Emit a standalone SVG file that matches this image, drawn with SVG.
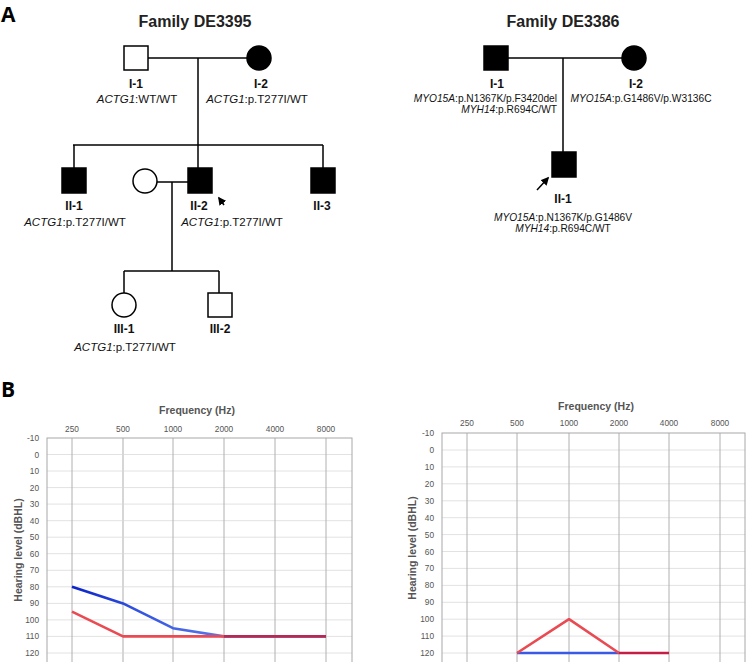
<svg xmlns="http://www.w3.org/2000/svg" width="746" height="662" viewBox="0 0 746 662">
<style>
.bg{fill:#fff}
.panel{font-family:"Open Sans","Liberation Sans",sans-serif;font-weight:700;font-size:21px;fill:#000}
.title{font-family:"Liberation Sans",Arial,sans-serif;font-weight:700;font-size:16px;fill:#222;text-anchor:middle}
.id{font-family:"Liberation Sans",Arial,sans-serif;font-weight:700;font-size:12px;fill:#111;text-anchor:middle}
.geno{font-family:"Liberation Sans",Arial,sans-serif;font-size:11.5px;fill:#111;text-anchor:middle}
.geno2{font-family:"Liberation Sans",Arial,sans-serif;font-size:10.2px;fill:#111}
.it{font-style:italic}
.open{fill:#fff;stroke:#000;stroke-width:1.5}
.aff{fill:#000;stroke:#000;stroke-width:1.5}
.ln{stroke:#000;stroke-width:1.5;fill:none}
.arr{stroke:#000;stroke-width:1.5;fill:none}
.hgrid{stroke:#e2e2e2;stroke-width:1}
.vgrid{stroke:#b0b0b0;stroke-width:1}
.frame{fill:none;stroke:#a8a8a8;stroke-width:1}
.axt{font-family:"Liberation Sans",Arial,sans-serif;font-weight:700;font-size:10.5px;fill:#555;text-anchor:middle}
.fq{font-family:"Liberation Sans",Arial,sans-serif;font-size:8.3px;fill:#555;text-anchor:middle}
.yl{font-family:"Liberation Sans",Arial,sans-serif;font-size:8.3px;fill:#555;text-anchor:end}
.curve{fill:none;stroke-width:2.6;stroke-linejoin:round;stroke-linecap:butt}
</style>
<defs>
<marker id="ah" viewBox="0 0 10 10" refX="8" refY="5" markerWidth="5.5" markerHeight="5.5" orient="auto">
<path d="M0,0 L10,5 L0,10 z" fill="#000"/>
</marker>
<linearGradient id="blueL" gradientUnits="userSpaceOnUse" x1="72" y1="0" x2="224" y2="0">
<stop offset="0" stop-color="#0a22c8"/>
<stop offset="0.45" stop-color="#3555e0"/>
<stop offset="1" stop-color="#5a78ea"/>
</linearGradient>
</defs>
<rect class="bg" x="0" y="0" width="746" height="662"/>

<text class="panel" x="1" y="22">A</text>
<text class="panel" x="1" y="397">B</text>

<text class="title" x="195" y="27">Family DE3395</text>
<text class="title" x="563" y="27">Family DE3386</text>

<g id="connectors">
<line class="ln" x1="148" y1="58" x2="247" y2="58"/>
<line class="ln" x1="198" y1="58" x2="198" y2="145"/>
<line class="ln" x1="73" y1="145" x2="323" y2="145"/>
<line class="ln" x1="74" y1="145" x2="74" y2="168"/>
<line class="ln" x1="198" y1="145" x2="198" y2="168"/>
<line class="ln" x1="323" y1="145" x2="323" y2="168"/>
<line class="ln" x1="157" y1="182" x2="188" y2="182"/>
<line class="ln" x1="172" y1="182" x2="172" y2="271"/>
<line class="ln" x1="124" y1="271" x2="219" y2="271"/>
<line class="ln" x1="124" y1="271" x2="124" y2="293"/>
<line class="ln" x1="219" y1="271" x2="219" y2="293"/>
<line class="ln" x1="508" y1="58" x2="622" y2="58"/>
<line class="ln" x1="563" y1="58" x2="563" y2="152"/>
</g>

<g id="I-1_DE3395">
<rect class="open" x="124" y="46" width="24" height="24"/>
<text class="id" x="136" y="88">I-1</text>
<text class="geno" x="137" y="103"><tspan class="it">ACTG1</tspan>:WT/WT</text>
</g>
<g id="I-2_DE3395">
<circle class="aff" cx="259" cy="58" r="12"/>
<text class="id" x="261" y="88">I-2</text>
<text class="geno" x="257" y="103"><tspan class="it">ACTG1</tspan>:p.T277I/WT</text>
</g>
<g id="II-1_DE3395">
<rect class="aff" x="62" y="168" width="24" height="25"/>
<text class="id" x="74" y="210">II-1</text>
<text class="geno" x="75" y="226"><tspan class="it">ACTG1</tspan>:p.T277I/WT</text>
</g>
<g id="spouse_DE3395">
<circle class="open" cx="145" cy="181" r="12"/>
</g>
<g id="II-2_DE3395">
<rect class="aff" x="188" y="168" width="24" height="25"/>
<text class="id" x="199" y="210">II-2</text>
<text class="geno" x="232" y="226"><tspan class="it">ACTG1</tspan>:p.T277I/WT</text>
<line class="arr" x1="224" y1="205" x2="219" y2="198" marker-end="url(#ah)"/>
</g>
<g id="II-3_DE3395">
<rect class="aff" x="311" y="168" width="24" height="25"/>
<text class="id" x="322" y="210">II-3</text>
</g>
<g id="III-1_DE3395">
<circle class="open" cx="124" cy="305" r="12"/>
<text class="id" x="124" y="333">III-1</text>
<text class="geno" x="125" y="351"><tspan class="it">ACTG1</tspan>:p.T277I/WT</text>
</g>
<g id="III-2_DE3395">
<rect class="open" x="208" y="293" width="24" height="24"/>
<text class="id" x="220" y="333">III-2</text>
</g>

<g id="I-1_DE3386">
<rect class="aff" x="484" y="46" width="24" height="24"/>
<text class="id" x="497" y="88">I-1</text>
<text class="geno2" x="557" y="102" text-anchor="end"><tspan class="it">MYO15A</tspan>:p.N1367K/p.F3420del</text>
<text class="geno2" x="557" y="113" text-anchor="end"><tspan class="it">MYH14</tspan>:p.R694C/WT</text>
</g>
<g id="I-2_DE3386">
<circle class="aff" cx="634" cy="58" r="12"/>
<text class="id" x="636" y="88">I-2</text>
<text class="geno2" x="641" y="102" text-anchor="middle"><tspan class="it">MYO15A</tspan>:p.G1486V/p.W3136C</text>
</g>
<g id="II-1_DE3386">
<rect class="aff" x="552" y="152" width="24" height="25"/>
<text class="id" x="563" y="203">II-1</text>
<text class="geno2" x="563" y="221" text-anchor="middle"><tspan class="it">MYO15A</tspan>:p.N1367K/p.G1486V</text>
<text class="geno2" x="563" y="232" text-anchor="middle"><tspan class="it">MYH14</tspan>:p.R694C/WT</text>
<line class="arr" x1="537" y1="190" x2="548" y2="178" marker-end="url(#ah)"/>
</g>

<g id="chart-left">
<text class="axt" x="197" y="414">Frequency (Hz)</text>
<g class="fq">
<text x="72" y="432">250</text><text x="123" y="432">500</text><text x="173" y="432">1000</text>
<text x="224" y="432">2000</text><text x="275" y="432">4000</text><text x="326" y="432">8000</text>
</g>
<g class="hgrid">
<line x1="47" y1="454.5" x2="352" y2="454.5"/><line x1="47" y1="471" x2="352" y2="471"/>
<line x1="47" y1="487.6" x2="352" y2="487.6"/><line x1="47" y1="504.1" x2="352" y2="504.1"/>
<line x1="47" y1="520.7" x2="352" y2="520.7"/><line x1="47" y1="537.2" x2="352" y2="537.2"/>
<line x1="47" y1="553.7" x2="352" y2="553.7"/><line x1="47" y1="570.3" x2="352" y2="570.3"/>
<line x1="47" y1="586.8" x2="352" y2="586.8"/><line x1="47" y1="603.4" x2="352" y2="603.4"/>
<line x1="47" y1="619.9" x2="352" y2="619.9"/><line x1="47" y1="636.4" x2="352" y2="636.4"/>
<line x1="47" y1="653" x2="352" y2="653"/>
</g>
<g class="vgrid">
<line x1="72" y1="438" x2="72" y2="662"/>
<line x1="123" y1="438" x2="123" y2="662" stroke="#d6d6d6" stroke-width="2"/>
<line x1="173" y1="438" x2="173" y2="662"/><line x1="224" y1="438" x2="224" y2="662"/>
<line x1="275" y1="438" x2="275" y2="662"/><line x1="326" y1="438" x2="326" y2="662"/>
</g>
<rect class="frame" x="47" y="438" width="305" height="230"/>
<g class="yl">
<text x="39" y="441">-10</text><text x="39" y="457.5">0</text><text x="39" y="474">10</text>
<text x="39" y="490.6">20</text><text x="39" y="507.1">30</text><text x="39" y="523.7">40</text>
<text x="39" y="540.2">50</text><text x="39" y="556.7">60</text><text x="39" y="573.3">70</text>
<text x="39" y="589.8">80</text><text x="39" y="606.4">90</text><text x="39" y="622.9">100</text>
<text x="39" y="639.4">110</text><text x="39" y="656">120</text>
</g>
<text class="axt" transform="translate(22,550) rotate(-90)">Hearing level (dBHL)</text>
<path class="curve" stroke="url(#blueL)" d="M72,586.8 L123,603.4 L173,628.2 L224,636.4 L326,636.4"/>
<path class="curve" stroke="#ea4a52" d="M72,611.6 L123,636.4 L224,636.4"/>
<path class="curve" stroke="#b8284f" d="M224,636.4 L326,636.4"/>
</g>

<g id="chart-right">
<text class="axt" x="596" y="410">Frequency (Hz)</text>
<g class="fq">
<text x="467" y="426">250</text><text x="517" y="426">500</text><text x="569" y="426">1000</text>
<text x="619" y="426">2000</text><text x="669" y="426">4000</text><text x="720" y="426">8000</text>
</g>
<g class="hgrid">
<line x1="442" y1="450" x2="745" y2="450"/><line x1="442" y1="466.9" x2="745" y2="466.9"/>
<line x1="442" y1="483.8" x2="745" y2="483.8"/><line x1="442" y1="500.8" x2="745" y2="500.8"/>
<line x1="442" y1="517.7" x2="745" y2="517.7"/><line x1="442" y1="534.6" x2="745" y2="534.6"/>
<line x1="442" y1="551.5" x2="745" y2="551.5"/><line x1="442" y1="568.4" x2="745" y2="568.4"/>
<line x1="442" y1="585.4" x2="745" y2="585.4"/><line x1="442" y1="602.3" x2="745" y2="602.3"/>
<line x1="442" y1="619.2" x2="745" y2="619.2"/><line x1="442" y1="636.1" x2="745" y2="636.1"/>
<line x1="442" y1="653" x2="745" y2="653"/>
</g>
<g class="vgrid">
<line x1="467" y1="433" x2="467" y2="662"/><line x1="517" y1="433" x2="517" y2="662"/>
<line x1="569" y1="433" x2="569" y2="662"/><line x1="619" y1="433" x2="619" y2="662"/>
<line x1="669" y1="433" x2="669" y2="662"/><line x1="720" y1="433" x2="720" y2="662"/>
</g>
<rect class="frame" x="442" y="433" width="303" height="235"/>
<g class="yl">
<text x="434" y="436">-10</text><text x="434" y="453">0</text><text x="434" y="469.9">10</text>
<text x="434" y="486.8">20</text><text x="434" y="503.8">30</text><text x="434" y="520.7">40</text>
<text x="434" y="537.6">50</text><text x="434" y="554.5">60</text><text x="434" y="571.4">70</text>
<text x="434" y="588.4">80</text><text x="434" y="605.3">90</text><text x="434" y="622.2">100</text>
<text x="434" y="639.1">110</text><text x="434" y="656">120</text>
</g>
<text class="axt" transform="translate(416,548) rotate(-90)">Hearing level (dBHL)</text>
<path class="curve" stroke="#3a5ae6" d="M517,653 L619,653"/>
<path class="curve" stroke="#ea4a52" d="M517,653 L569,619.2 L619,653"/>
<path class="curve" stroke="#c41e45" d="M619,653 L669,653"/>
</g>
</svg>
